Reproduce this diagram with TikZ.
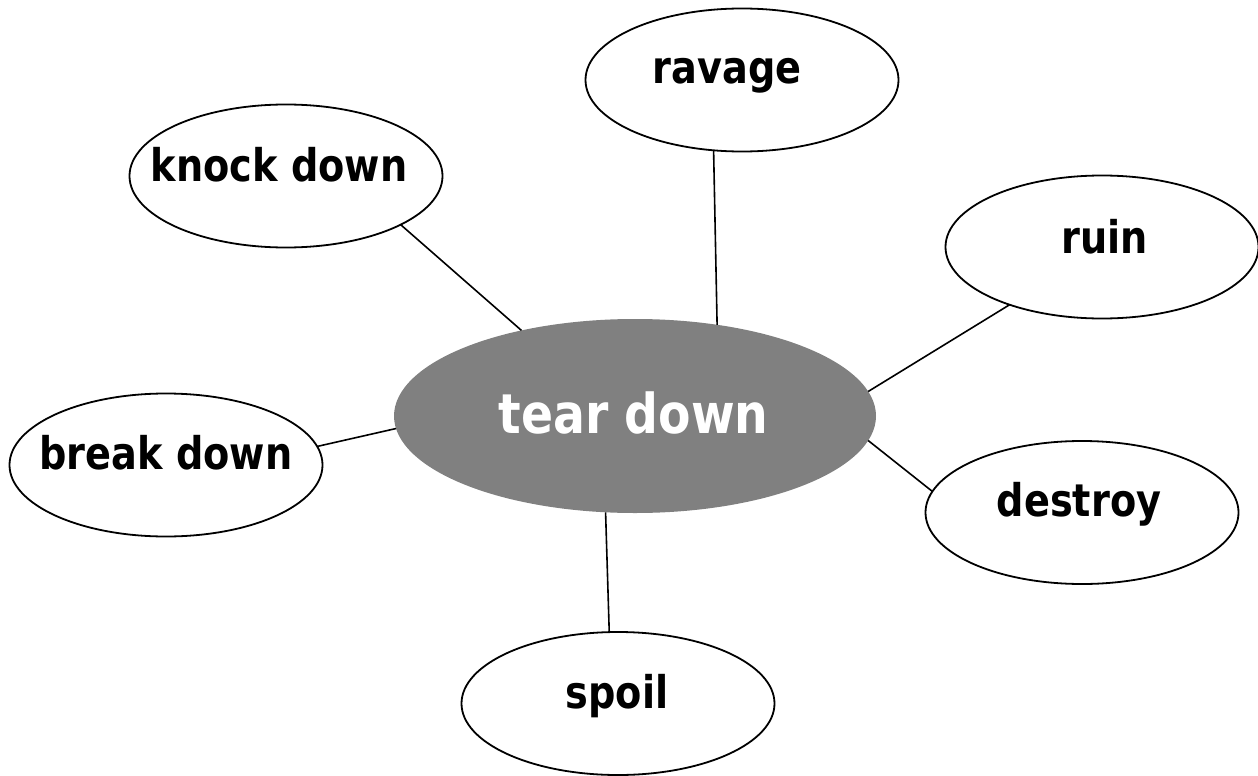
\documentclass[tikz,border=0pt]{standalone}
\usepackage{fontspec}
\newfontfamily\lblfont{DejaVu Sans}[FakeStretch=0.85]
\newfontfamily\ctrfont{DejaVu Sans}[FakeStretch=0.86]
\usetikzlibrary{shapes.geometric}
\definecolor{hubgray}{RGB}{128,128,128}
\begin{document}
\begin{tikzpicture}[x=1pt,y=-1pt,
  bubble/.style={ellipse,draw=black,line width=1.8pt,fill=white,inner sep=0pt,outer sep=0pt,minimum width=313pt,minimum height=143pt},
  hub/.style={ellipse,fill=hubgray,draw=none,inner sep=0pt,outer sep=0pt,minimum width=482pt,minimum height=194pt},
  lbl/.style={anchor=base,inner sep=0pt,font=\lblfont\bfseries\fontsize{45}{54}\selectfont,text=black},
  hublbl/.style={anchor=base,inner sep=0pt,font=\ctrfont\bfseries\fontsize{55}{66}\selectfont,text=white},
  link/.style={draw=black,line width=1.6pt}]
\useasboundingbox (0,0) rectangle (1258,776);
\node[hub] (td) at (635,416) {};
\node[bubble] (rav) at (742,80) {};
\node[bubble] (knock) at (286,176) {};
\node[bubble] (ruin) at (1102,247) {};
\node[bubble] (brk) at (166,465) {};
\node[bubble] (des) at (1082,512.5) {};
\node[bubble] (spo) at (618,703.5) {};
\draw[link] (rav.248) -- (td.48);
\draw[link] (knock.337) -- (td.143.5);
\draw[link] (ruin.212.6) -- (td.6.4);
\draw[link] (brk.7.4) -- (td.183.4);
\draw[link] (des.172.3) -- (td.354.6);
\draw[link] (spo.97.2) -- (td.253.9);
\node[hublbl] (tdt) at (633.5,433) {tear down};
\node[lbl] (ravt) at (727,83) {ravage};
\node[lbl] (knockt) at (279,181) {knock down};
\node[lbl] (ruint) at (1104.5,253) {ruin};
\node[lbl] (brkt) at (166,469) {break down};
\node[lbl] (dest) at (1079,516) {destroy};
\node[lbl] (spot) at (617,708) {spoil};
\end{tikzpicture}
\end{document}
